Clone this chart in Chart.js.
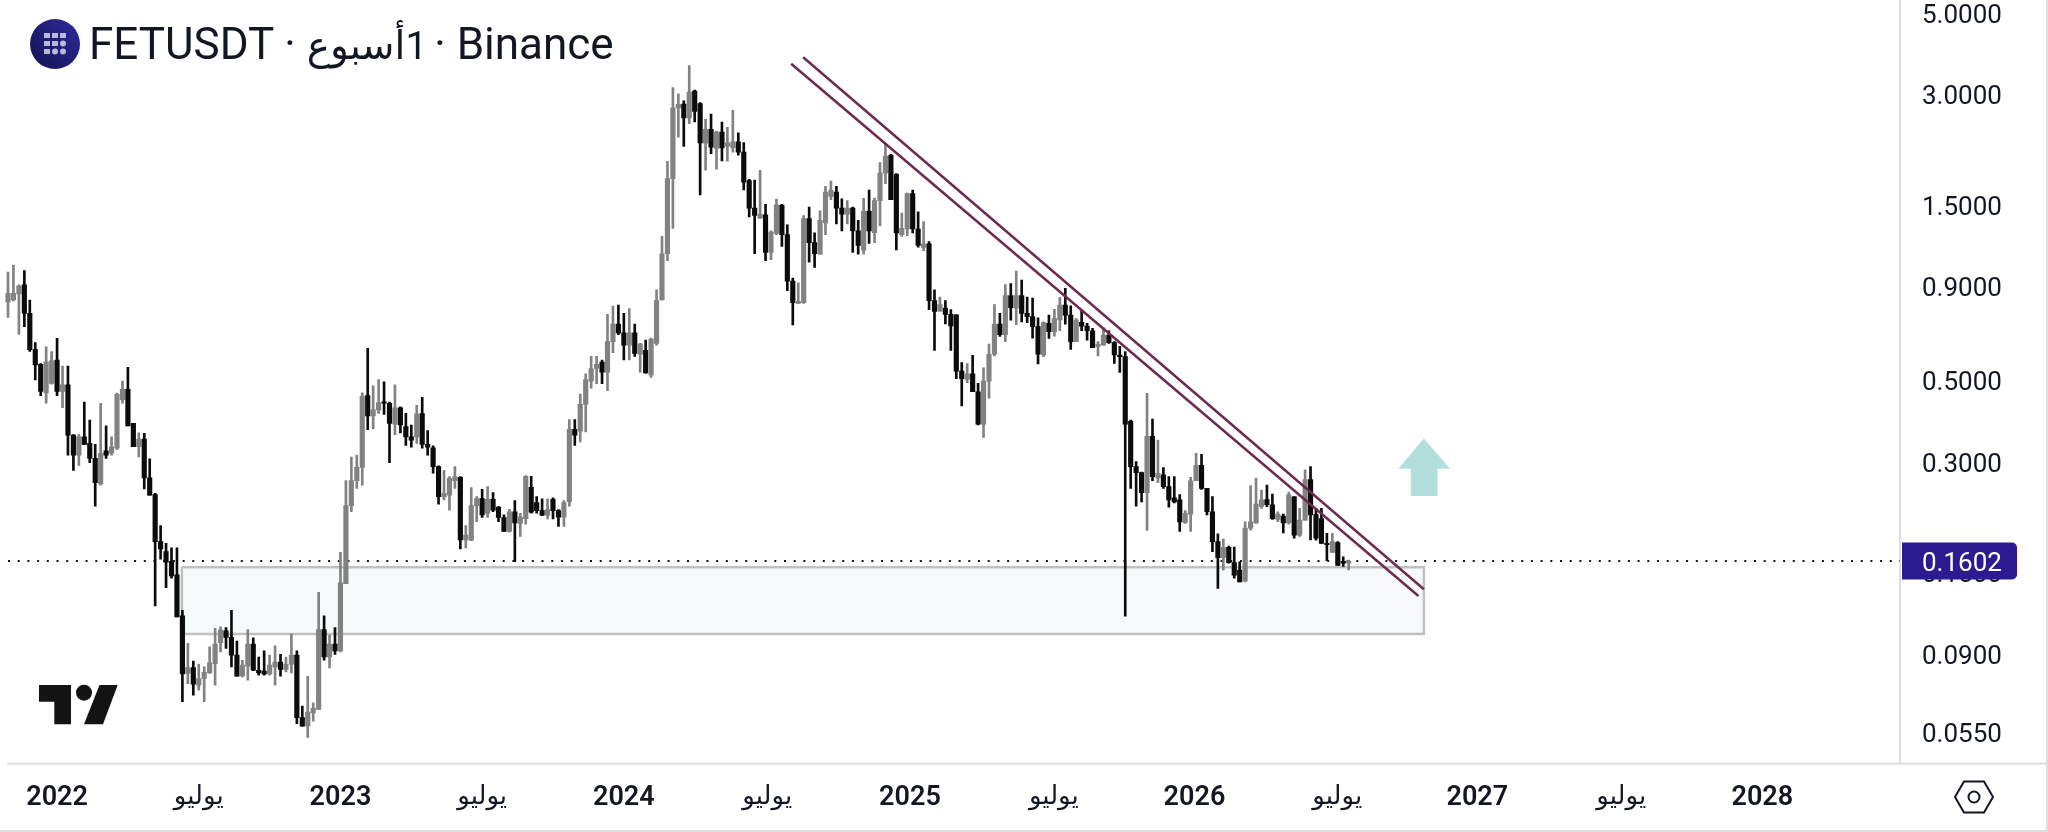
<!DOCTYPE html>
<html>
<head>
<meta charset="utf-8">
<title>FETUSDT</title>
<style>
    html, body { margin: 0; padding: 0; background: #fff; overflow: hidden; }
    #wrap { position: relative; width: 2048px; height: 832px; }
    #chart { position: absolute; left: 0; top: 0; }
    #title { position: absolute; left: 89px; top: 16px; font: 44px Roboto, "DejaVu Sans", sans-serif; color: #131722; white-space: nowrap; line-height: 56px; }
    #title bdi { font-size: 39px; margin-right: -4px; }
    svg { position: absolute; left: 0; top: 0; }
</style>
<script src="https://cdn.jsdelivr.net/npm/chart.js@4"></script>
</head>
<body>
<div id="wrap">
    <canvas id="chart" width="2048" height="832"></canvas>
    <div id="title">FETUSDT · <bdi dir="rtl">1أسبوع</bdi> · Binance</div>
    <svg width="2048" height="832" viewBox="0 0 2048 832">
        <defs>
            <linearGradient id="coin" x1="0" y1="1" x2="1" y2="0">
                <stop offset="0" stop-color="#12124f"/>
                <stop offset="1" stop-color="#2f2a9e"/>
            </linearGradient>
        </defs>
        <!-- symbol icon -->
        <circle cx="55" cy="44" r="25" fill="url(#coin)"/>
        <g fill="#b9b8dd">
            <rect x="44" y="33" width="6" height="5"/><rect x="52" y="33" width="6" height="5"/><rect x="60" y="33" width="6" height="5"/>
            <rect x="44" y="41" width="6" height="5"/><rect x="52" y="41" width="6" height="5"/><circle cx="63" cy="43.5" r="3"/>
            <rect x="44" y="49" width="6" height="5"/><circle cx="55" cy="51.5" r="3"/><circle cx="63" cy="51.5" r="3"/>
        </g>
        <!-- watermark -->
        <g fill="#131313">
            <path d="M39 685H71V724.3H54.3V701.7H39Z"/>
            <circle cx="84" cy="692.7" r="8"/>
            <path d="M99.5 685H117.7L103 724.3H84Z"/>
        </g>
        <!-- settings icon -->
        <path d="M1964 781.5H1984L1993 797L1984 812.5H1964L1955 797Z" fill="none" stroke="#131722" stroke-width="2"/>
        <circle cx="1974" cy="797" r="5.5" fill="none" stroke="#131722" stroke-width="2"/>
    </svg>
</div>
<script>
// Weekly candles
const opens = [
    .814,.823,.855,.905,.757,.603,.55,.46,.488,.565,
    .464,.484,.353,.311,.349,.335,.305,.26,.32,.315,
    .325,.441,.47,.38,.328,.344,.27,.243,.181,.17,
    .16,.147,.1137,.0792,.0822,.0736,.0767,.0795,.0842,.096,
    .1035,.0993,.0888,.078,.0829,.0952,.0808,.0804,.0789,.0825,
    .0851,.0812,.0839,.0888,.06,.057,.0618,.0632,.1043,.0878,
    .0952,.0912,.1391,.2267,.2652,.2883,.452,.398,.413,.435,
    .431,.378,.419,.372,.349,.349,.404,.333,.326,.2895,
    .24,.242,.265,.271,.183,.1825,.2267,.2372,.216,.236,
    .2248,.2105,.193,.2183,.203,.2091,.2545,.231,.22,.2136,
    .236,.2197,.211,.2325,.366,.3615,.428,.495,.5357,.558,
    .524,.634,.708,.67,.62,.67,.586,.60,.515,.627,
    .823,1.10,1.762,2.745,2.81,2.58,3.05,2.82,2.2,2.4,
    2.13,2.36,2.16,2.14,2.22,2.08,1.74,1.465,1.375,1.405,
    1.11,1.25,1.49,1.24,.927,.806,.81,1.372,1.18,1.097,
    1.335,1.575,1.62,1.465,1.41,1.465,1.27,1.125,1.435,1.255,
    1.535,1.825,2.04,1.81,1.24,1.285,1.605,1.285,1.145,1.17,
    .82,.767,.782,.7526,.75,.527,.5,.518,.463,.378,
    .495,.586,.708,.662,.847,.782,.847,.757,.742,.697,
    .583,.711,.675,.726,.797,.749,.634,.716,.699,.679,
    .615,.62,.661,.63,.583,.577,.385,.2895,.279,.246,
    .35,.27,.275,.2554,.238,.235,.204,.215,.265,.292,
    .2527,.2183,.181,.1637,.1745,.1586,.1515,.1415,.197,.2035,
    .2255,.2355,.228,.208,.2125,.2035,.2395,.1885,.207,.267,
    .2145,.209,.179,.169,.18,.16,.158
];
const highs = [
    .98,1.025,.905,.99,.823,.63,.553,.614,.596,.647,
    .544,.544,.354,.354,.434,.388,.333,.431,.374,.349,
    .459,.495,.54,.38,.358,.357,.304,.245,.2,.179,
    .174,.174,.1177,.0956,.0856,.084,.0825,.0936,.105,.1061,
    .1056,.1177,.097,.086,.1042,.099,.0878,.0912,.0888,.0942,
    .0892,.0878,.1013,.0912,.0645,.0778,.0659,.1316,.1137,.1007,
    .1056,.1692,.2652,.3076,.3115,.46,.608,.481,.5,.493,
    .434,.484,.4216,.4045,.376,.4255,.447,.363,.33,.291,
    .283,.272,.2895,.272,.2,.254,.24,.2512,.2554,.246,
    .2253,.214,.2215,.234,.2162,.2736,.2723,.24,.2365,.2365,
    .238,.2212,.234,.389,.389,.4565,.518,.578,.578,.565,
    .752,.793,.797,.757,.78,.708,.627,.64,.648,.877,
    1.227,1.963,3.12,3.0,2.87,3.58,3.07,2.84,2.555,2.64,
    2.375,2.51,2.43,2.705,2.348,2.21,1.755,1.745,1.857,1.5,
    1.27,1.55,1.5,1.318,.945,.917,1.397,1.475,1.254,1.44,
    1.678,1.735,1.678,1.552,1.535,1.475,1.356,1.558,1.641,1.56,
    1.95,2.195,2.053,1.82,1.42,1.61,1.641,1.43,1.345,1.187,
    .877,.838,.82,.775,.75,.556,.553,.582,.488,.538,
    .624,.8,.757,.907,.912,.987,.933,.838,.833,.736,
    .718,.749,.776,.837,.886,.794,.733,.768,.711,.689,
    .634,.693,.679,.634,.616,.596,.388,.299,.28,.4585,
    .39,.342,.288,.272,.272,.243,.22,.271,.315,.313,
    .2527,.24,.19,.184,.176,.175,.1595,.205,.257,.269,
    .25,.258,.244,.218,.215,.247,.24,.223,.284,.2895,
    .223,.223,.1905,.1905,.181,.1645,.1612
];
const lows = [
    .738,.818,.663,.696,.596,.4985,.452,.431,.486,.452,
    .419,.311,.283,.292,.333,.297,.226,.258,.305,.311,
    .322,.431,.374,.328,.308,.252,.242,.121,.162,.1355,
    .144,.1128,.0663,.0743,.0691,.0713,.0663,.0792,.0736,.0906,
    .0926,.0825,.0778,.0775,.0759,.0806,.0783,.0783,.0783,.0736,
    .0778,.08,.0795,.0578,.0569,.053,.0587,.0632,.086,.082,
    .0892,.0906,.1391,.2183,.2527,.258,.365,.367,.4045,.402,
    .297,.354,.358,.331,.327,.335,.325,.311,.278,.229,
    .235,.2205,.2527,.173,.174,.182,.205,.2105,.2105,.2183,
    .205,.193,.192,.1595,.187,.202,.2162,.2162,.213,.2085,
    .2085,.199,.199,.226,.331,.338,.36,.4735,.487,.487,
    .466,.592,.662,.565,.565,.578,.524,.52,.507,.62,
    .823,1.054,1.29,2.285,2.155,2.485,2.515,1.59,1.857,2.06,
    1.87,1.97,1.965,2.08,2.04,1.641,1.386,1.1,1.372,1.054,
    1.06,1.24,1.152,.873,.704,.806,.806,1.044,1.01,1.097,
    1.24,1.545,1.327,1.27,1.327,1.11,1.097,1.097,1.173,1.18,
    1.312,1.708,1.545,1.127,1.227,1.232,1.254,1.147,1.122,.775,
    .6,.767,.709,.6,.503,.4235,.49,.463,.376,.348,
    .445,.58,.655,.634,.725,.705,.717,.714,.648,.551,
    .577,.647,.656,.679,.708,.604,.634,.679,.64,.611,
    .58,.62,.627,.553,.523,.1134,.2527,.226,.232,.194,
    .265,.262,.2527,.2245,.2305,.193,.203,.193,.265,.251,
    .214,.17,.135,.1515,.158,.144,.1405,.1405,.1945,.203,
    .223,.2253,.208,.205,.191,.202,.185,.187,.207,.183,
    .1827,.179,.1605,.169,.156,.155,.1515
];
const closes = [
    .858,.858,.9,.757,.603,.548,.464,.559,.562,.464,
    .484,.353,.311,.349,.333,.305,.262,.315,.311,.328,
    .456,.47,.374,.328,.344,.27,.242,.181,.173,.159,
    .146,.1128,.0789,.0822,.074,.0767,.0797,.0846,.0952,.104,
    .0993,.0888,.0778,.0834,.0952,.0808,.0795,.0789,.0834,.0851,
    .0812,.0839,.0888,.06,.0569,.0622,.0636,.1043,.0878,.0952,
    .0912,.1397,.2267,.2652,.2883,.45,.398,.414,.433,.431,
    .38,.419,.376,.349,.342,.403,.333,.327,.2895,.24,
    .245,.269,.272,.183,.1885,.2267,.2372,.214,.236,.2205,
    .2105,.193,.2183,.2035,.211,.2723,.2177,.2197,.2136,.2212,
    .2197,.211,.231,.366,.353,.428,.5,.5357,.55,.524,
    .634,.708,.67,.62,.67,.589,.625,.521,.644,.82,
    1.1,1.762,2.745,2.809,2.58,3.03,2.686,2.205,2.4,2.147,
    2.36,2.135,2.205,2.22,2.08,1.724,1.465,1.4,1.41,1.11,
    1.26,1.495,1.24,.927,.81,.817,1.372,1.18,1.1,1.356,
    1.62,1.641,1.465,1.41,1.465,1.27,1.16,1.435,1.27,1.535,
    1.825,2.03,1.545,1.254,1.29,1.605,1.285,1.16,1.17,.82,
    .7666,.8,.7526,.7,.527,.503,.518,.463,.378,.495,
    .586,.708,.662,.847,.784,.847,.757,.742,.697,.586,
    .714,.675,.733,.797,.749,.634,.726,.699,.679,.611,
    .624,.661,.63,.583,.577,.378,.2895,.279,.246,.35,
    .272,.2776,.2554,.235,.232,.2047,.216,.265,.292,.2527,
    .2183,.181,.1637,.1745,.1586,.1466,.1405,.197,.205,.229,
    .235,.228,.209,.215,.2035,.2425,.1885,.207,.267,.214,
    .185,.179,.1775,.181,.156,.158,.1602
];

// Axis ticks (x is the week number of the candle)
const xTickValues = [9, 35, 61, 87, 113, 139.3, 165.5, 191.9, 217.7, 243.9, 269.6, 296, 321.9];
const xTickLabels = ['2022', 'يوليو', '2023', 'يوليو', '2024', 'يوليو', '2025', 'يوليو', '2026', 'يوليو', '2027', 'يوليو', '2028'];
const yTickValues = [5, 3, 1.5, 0.9, 0.5, 0.3, 0.15, 0.09, 0.055];
const xMin = -1.47, xMax = 347.16, yMin = 0.04525, yMax = 5.40;

// Last price, drawings
const lastPrice = 0.1602;
const zoneWeeks = [31.9, 259.8];
const zonePrices = [0.154, 0.1014];
const trendUpperWeeks = [145.9, 259.8];
const trendUpperPrices = [3.773, 0.1342];
const trendLowerWeeks = [143.7, 258.8];
const trendLowerPrices = [3.622, 0.1287];
const arrowWeeks = [259.8, 264.6, 262.3, 262.3, 257.4, 257.4, 255.1];
const arrowPrices = [0.3457, 0.2857, 0.2857, 0.2408, 0.2408, 0.2857, 0.2857];

const UP = '#828282', DOWN = '#0b0b0b', TREND = '#6d2a4e', EDGE = '#dedfe2';
const candleColors = closes.map((c, i) => c >= opens[i] ? UP : DOWN);

function segment(xs, ys) {
    return xs.map((x, i) => ({ x: x, y: ys[i] }));
}

// Arrow, price labels, price badge and the frame lines
const overlayPlugin = {
    id: 'overlay',
    afterDatasetsDraw(chart) {
        const { ctx, scales: { x, y } } = chart;
        ctx.save();
        ctx.fillStyle = '#b2dfdb';
        ctx.beginPath();
        arrowWeeks.forEach((w, i) => {
            ctx.lineTo(x.getPixelForValue(w), y.getPixelForValue(arrowPrices[i]));
        });
        ctx.closePath();
        ctx.fill();
        ctx.restore();
    },
    afterDraw(chart) {
        const { ctx, chartArea, scales: { y } } = chart;
        const py = y.getPixelForValue(lastPrice);
        ctx.save();
        ctx.fillStyle = EDGE;
        ctx.fillRect(7, chartArea.bottom, 2041, 2);
        ctx.fillRect(0, 830, 2048, 2);
        ctx.fillRect(2046, 0, 2, 832);
        ctx.font = '26px Roboto';
        ctx.textBaseline = 'middle';
        ctx.fillStyle = '#131722';
        yTickValues.forEach(v => {
            ctx.fillText(v.toFixed(4), 1922, y.getPixelForValue(v) + 4);
        });
        ctx.fillStyle = '#2a1c90';
        ctx.beginPath();
        ctx.roundRect(chartArea.right + 2, py - 18.5, 115, 37, [0, 5, 5, 0]);
        ctx.fill();
        ctx.fillStyle = '#ffffff';
        ctx.fillText(lastPrice.toFixed(4), 1922, py + 3);
        ctx.restore();
    }
};

new Chart(document.getElementById('chart'), {
    data: {
        datasets: [
            {
                type: 'line', order: 10, data: segment(zoneWeeks, [zonePrices[0], zonePrices[0]]),
                borderWidth: 0, pointRadius: 0, backgroundColor: '#f6fafb', fill: { value: zonePrices[1] }
            },
            {
                type: 'line', order: 9,
                data: segment([zoneWeeks[0], zoneWeeks[1], zoneWeeks[1], zoneWeeks[0], zoneWeeks[0]],
                              [zonePrices[0], zonePrices[0], zonePrices[1], zonePrices[1], zonePrices[0]]),
                borderColor: '#bfc0c0', borderWidth: 2.5, pointRadius: 0, tension: 0, fill: false
            },
            {
                type: 'line', order: 8, data: segment([0, xMax], [lastPrice, lastPrice]),
                borderColor: '#131722', borderWidth: 2, borderDash: [2, 7.7], pointRadius: 0, fill: false
            },
            {
                type: 'bar', order: 5, grouped: false, barThickness: 2,
                data: highs.map((h, i) => ({ x: i, y: [lows[i], h] })),
                backgroundColor: candleColors, borderWidth: 0
            },
            {
                type: 'bar', order: 4, grouped: false, barThickness: 4.5, minBarLength: 1,
                data: opens.map((o, i) => ({ x: i, y: [Math.min(o, closes[i]), Math.max(o, closes[i])] })),
                backgroundColor: candleColors, borderWidth: 0
            },
            {
                type: 'line', order: 1, data: segment(trendUpperWeeks, trendUpperPrices),
                borderColor: TREND, borderWidth: 2.5, pointRadius: 0, fill: false
            },
            {
                type: 'line', order: 1, data: segment(trendLowerWeeks, trendLowerPrices),
                borderColor: TREND, borderWidth: 2.5, pointRadius: 0, fill: false
            }
        ]
    },
    options: {
        responsive: false,
        animation: false,
        layout: { padding: 0 },
        plugins: { legend: { display: false }, tooltip: { enabled: false } },
        scales: {
            x: {
                type: 'linear', min: xMin, max: xMax, offset: false,
                grid: { display: false, drawTicks: false, offset: false },
                border: { display: false },
                afterBuildTicks: scale => { scale.ticks = xTickValues.map(v => ({ value: v })); },
                afterFit: scale => { scale.height = 69.3; scale.paddingLeft = 0; scale.paddingRight = 0; },
                ticks: {
                    autoSkip: false, maxRotation: 0, padding: 19, color: '#131722',
                    font: ctx => ({
                        family: 'Roboto, "DejaVu Sans", sans-serif',
                        size: /\d/.test(xTickLabels[ctx.index] || '') ? 27 : 26,
                        weight: /\d/.test(xTickLabels[ctx.index] || '') ? '600' : '400'
                    }),
                    callback: (value, index) => xTickLabels[index]
                }
            },
            y: {
                type: 'logarithmic', position: 'right', min: yMin, max: yMax,
                grid: { display: false, drawTicks: false },
                border: { display: true, color: EDGE, width: 2 },
                afterFit: scale => { scale.width = 148; scale.paddingTop = 0; scale.paddingBottom = 0; },
                ticks: { display: false }
            }
        }
    },
    plugins: [overlayPlugin]
});
</script>
</body>
</html>
